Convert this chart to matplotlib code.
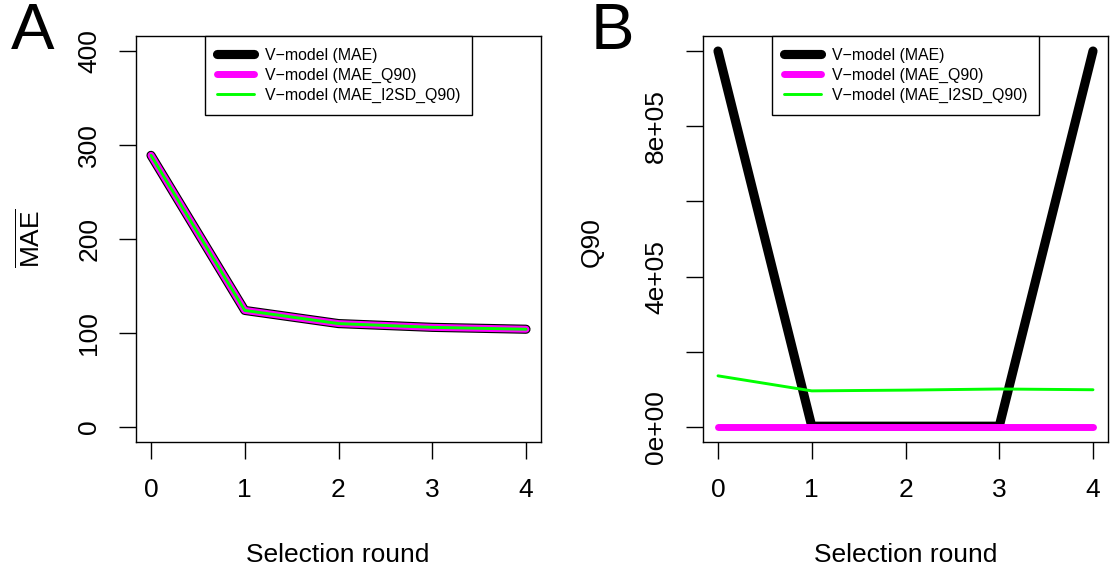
import numpy as np
import matplotlib
matplotlib.use("Agg")
import matplotlib.pyplot as plt

plt.rcParams['font.family'] = ['Liberation Sans', 'DejaVu Sans']
plt.rcParams['mathtext.fontset'] = 'custom'
plt.rcParams['mathtext.rm'] = 'Liberation Sans'

rounds = [0, 1, 2, 3, 4]
labels = ["V\u2212model (MAE)", "V\u2212model (MAE_Q90)", "V\u2212model (MAE_I2SD_Q90)"]

# mean MAE per selection round (the three models overlap)
mae_mae = [289, 124, 110, 106, 104]
mae_q90 = [289, 124, 110, 106, 104]
mae_i2sd = [289, 124, 110, 106, 104]

# Q90 per selection round
q90_mae = [1.0e6, 2000, 2000, 2000, 1.0e6]
q90_q90 = [0, 0, 0, 0, 0]
q90_i2sd = [136000, 96000, 98000, 101000, 99000]

colors = ["black", "#ff00ff", "#00ff00"]
widths = [6.6, 5.0, 2.1]

W, H = 1111, 577
fig = plt.figure(figsize=(W / 100, H / 100), dpi=100)

def px_axes(left, top, right, bottom):
    return fig.add_axes([left / W, 1 - bottom / H, (right - left) / W, (bottom - top) / H])

def style(ax):
    for s in ax.spines.values():
        s.set_linewidth(1.0)
    ax.tick_params(axis='both', length=12, width=1.0, labelsize=19, direction='out')
    ax.tick_params(axis='x', pad=14)
    ax.tick_params(axis='y', pad=13)
    for t in ax.get_yticklabels():
        t.set_rotation(90)
        t.set_va('center')
    ax.set_xticks(rounds)

def add_legend(ax, lines):
    leg = ax.legend(lines, labels, loc='upper center', bbox_to_anchor=(0.5, 1.0),
                    borderaxespad=0, fancybox=False, edgecolor='black', framealpha=1,
                    fontsize=11.4, handlelength=2.35, handletextpad=0.7,
                    labelspacing=0.3, borderpad=0.75)
    leg.get_frame().set_linewidth(1.0)

def draw(ax, series):
    lines = []
    for vals, c, w in zip(series, colors, widths):
        ln, = ax.plot(rounds, vals, color=c, lw=w, solid_capstyle='round', solid_joinstyle='round')
        lines.append(ln)
    return lines

# panel A
axA = px_axes(136, 36, 541, 442)
lines = draw(axA, [mae_mae, mae_q90, mae_i2sd])
axA.set_xlim(-0.16, 4.16)
axA.set_ylim(-16, 416)
axA.set_yticks([0, 100, 200, 300, 400])
style(axA)
add_legend(axA, lines)

# panel B
axB = px_axes(703, 36, 1108, 442)
lines = draw(axB, [q90_mae, q90_q90, q90_i2sd])
axB.set_xlim(-0.16, 4.16)
axB.set_ylim(-40000, 1.04e6)
axB.set_yticks([0, 2e5, 4e5, 6e5, 8e5, 1e6])
axB.set_yticklabels(["0e+00", "", "4e+05", "", "8e+05", ""])
style(axB)
add_legend(axB, lines)

# axis titles and panel letters
fig.text(338 / W, 1 - 555 / H, "Selection round", ha='center', va='center', fontsize=19)
fig.text(906 / W, 1 - 555 / H, "Selection round", ha='center', va='center', fontsize=19)
fig.text(30 / W, 1 - 238 / H, r'$\overline{\mathrm{MAE}}$', ha='center', va='center', rotation=90, fontsize=19)
fig.text(592 / W, 1 - 242 / H, "Q90", ha='center', va='center', rotation=90, fontsize=19)
fig.text(33 / W, 1 - 32 / H, "A", ha='center', va='center', fontsize=47)
fig.text(612 / W, 1 - 32 / H, "B", ha='center', va='center', fontsize=47)

fig.savefig("out.png", dpi=100)
